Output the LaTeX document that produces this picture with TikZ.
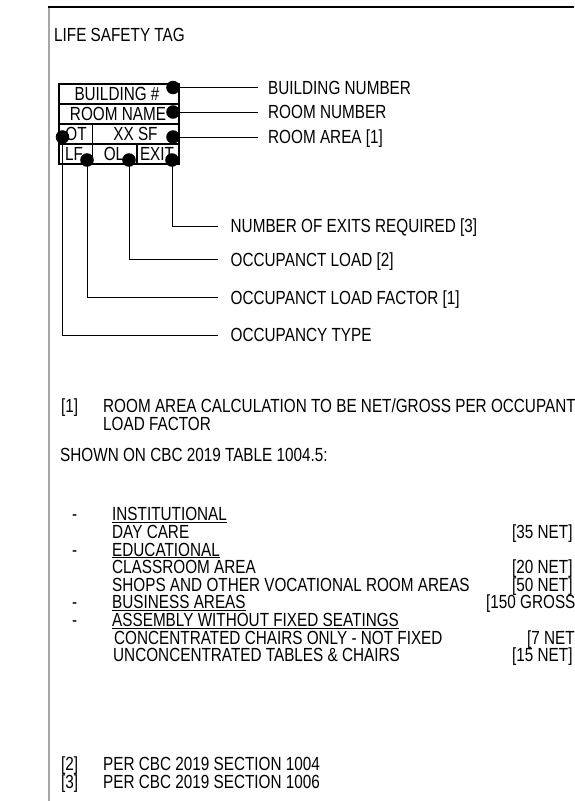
\documentclass[tikz,border=0pt]{standalone}
\usepackage{fontspec}
\setmainfont[FakeStretch=0.805]{Liberation Sans}

\begin{document}
\begin{tikzpicture}[
        x=1pt, y=-1pt,
        every node/.style={font=\fontsize{19}{22}\selectfont, inner sep=0pt, text height=13.6pt, text depth=0pt},
        note/.style={anchor=west},
        dot/.style={circle, fill=black, minimum size=6.5pt},
        leader/.style={line width=0.9pt},
        tagbox/.style={line width=1.3pt},
        uline/.style={line width=1pt}
        ]
        \useasboundingbox (0,0) rectangle (574,801);

        % Sheet border
        \draw[gray!70, line width=1.8pt] (49,801) -- (49,7);
        \draw[line width=1.4pt] (48.1,7) -- (574,7);

        \node[note] (title) at (54,35) {LIFE SAFETY TAG};

        % The tag
        \draw[tagbox] (59,84) rectangle (179,164);
        \draw[tagbox] (59,104) -- (179,104);
        \draw[tagbox] (59,124) -- (179,124);
        \draw[tagbox] (59,144) -- (179,144);
        \draw[tagbox] (92.5,124) -- (92.5,164);
        \draw[tagbox] (137,144) -- (137,164);

        \node (bldg) at (117,94) {BUILDING \#};
        \node (room) at (118,114) {ROOM NAME};
        \node (ot) at (76,134) {OT};
        \node (sf) at (135.5,134) {XX SF};
        \node (lf) at (74,154) {LF};
        \node (ol) at (114,154) {OL};
        \node (exit) at (157,154) {EXIT};

        % Dots
        \node[dot] (dBldg) at (173,87.5) {};
        \node[dot] (dRoom) at (173,112) {};
        \node[dot] (dSf) at (173,137) {};
        \node[dot] (dOt) at (62.5,137) {};
        \node[dot] (dLf) at (87,160) {};
        \node[dot] (dOl) at (129,160) {};
        \node[dot] (dExit) at (172,160) {};

        % Right hand callouts
        \node[note] (nBldg) at (268,87.5) {BUILDING NUMBER};
        \node[note] (nRoom) at (268,112) {ROOM NUMBER};
        \node[note] (nSf) at (268,137) {ROOM AREA [1]};
        \draw[leader] (dBldg.center) -- ([xshift=-10pt]nBldg.west);
        \draw[leader] (dRoom.center) -- ([xshift=-10pt]nRoom.west);
        \draw[leader] (dSf.center) -- ([xshift=-10pt]nSf.west);

        % Callouts below
        \node[note] (nExit) at (230.5,226) {NUMBER OF EXITS REQUIRED [3]};
        \node[note] (nOl) at (230.5,259.5) {OCCUPANCT LOAD [2]};
        \node[note] (nLf) at (230.5,297.5) {OCCUPANCT LOAD FACTOR [1]};
        \node[note] (nOt) at (230.5,335) {OCCUPANCY TYPE};
        \draw[leader] (dExit.center) |- ([xshift=-12.5pt]nExit.west);
        \draw[leader] (dOl.center) |- ([xshift=-12.5pt]nOl.west);
        \draw[leader] (dLf.center) |- ([xshift=-12.5pt]nLf.west);
        \draw[leader] (dOt.center) |- ([xshift=-12.5pt]nOt.west);

        % Notes
        \node[note] (f1) at (61,406) {[1]};
        \node[note] (f1a) at (103,406) {ROOM AREA CALCULATION TO BE NET/GROSS PER OCCUPANT};
        \node[note] (f1b) at (103,424) {LOAD FACTOR};
        \node[note] (shown) at (60,455) {SHOWN ON CBC 2019 TABLE 1004.5:};

        \node[note] (b1) at (72,514) {-};
        \node[note] (inst) at (112,514) {INSTITUTIONAL};
        \node[note] (day) at (112,531.6) {DAY CARE};
        \node[note] (b2) at (72,549.2) {-};
        \node[note] (edu) at (112,549.2) {EDUCATIONAL\hspace{4pt}};
        \node[note] (cls) at (112,566.8) {CLASSROOM AREA};
        \node[note] (shop) at (112,584.4) {SHOPS AND OTHER VOCATIONAL ROOM AREAS};
        \node[note] (b3) at (72,602) {-};
        \node[note] (bus) at (112,602) {BUSINESS AREAS};
        \node[note] (b4) at (72,619.6) {-};
        \node[note] (asm) at (112,619.6) {ASSEMBLY WITHOUT FIXED SEATINGS};
        \node[note] (conc) at (114,637.2) {CONCENTRATED CHAIRS ONLY - NOT FIXED};
        \node[note] (unc) at (113,654.8) {UNCONCENTRATED TABLES \& CHAIRS};
        \foreach \n in {inst, edu, bus, asm}
            \draw[uline] ([yshift=-1.5pt]\n.south west) -- ([yshift=-1.5pt]\n.south east);

        % Load factors
        \node[note] (vDay) at (512,531.6) {[35 NET]};
        \node[note] (vCls) at (512,566.8) {[20 NET]};
        \node[note] (vShop) at (512,584.4) {[50 NET]};
        \node[note] (vBus) at (486,602) {[150 GROSS]};
        \node[note] (vConc) at (527,637.2) {[7 NET]};
        \node[note] (vUnc) at (512,654.8) {[15 NET]};

        \node[note] (f2) at (61,764) {[2]};
        \node[note] (f2a) at (103,764) {PER CBC 2019 SECTION 1004};
        \node[note] (f3) at (61,782) {[3]};
        \node[note] (f3a) at (103,782) {PER CBC 2019 SECTION 1006};

    \end{tikzpicture}
\end{document}
